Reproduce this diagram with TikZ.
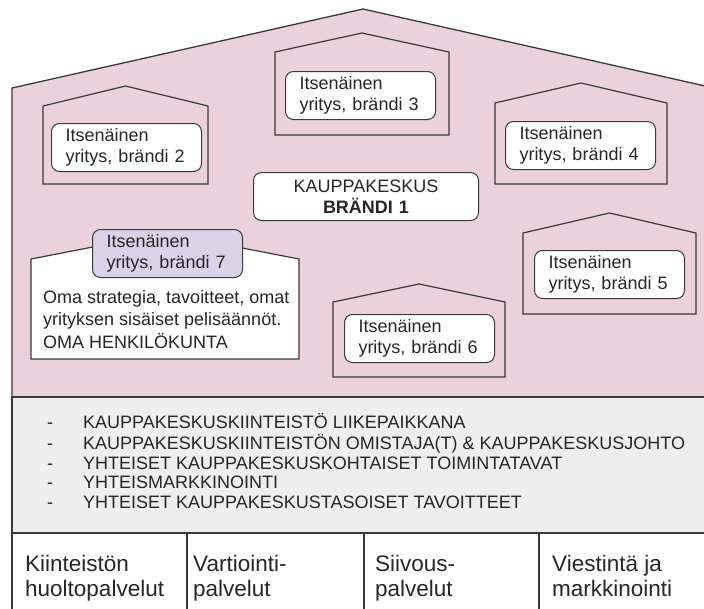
\documentclass[tikz,border=0pt]{standalone}
\usepackage{fontspec}
\setmainfont{Liberation Sans}
\usetikzlibrary{positioning}

\definecolor{keskuspink}{HTML}{EAD1DC}
\definecolor{yhteisgray}{HTML}{EEEEEE}
\definecolor{liila}{HTML}{D9D2E9}
\definecolor{viiva}{HTML}{3A3A3A}

\begin{document}
\begin{tikzpicture}[x=1pt, y=-1pt,
    wall/.style={draw=viiva, line width=1.3pt},
    house/.style={draw=viiva, line width=1.2pt},
    brand/.style={draw=viiva, fill=white, rounded corners=8pt, line width=1pt,
      text width=122pt, inner xsep=14pt, inner ysep=0pt, minimum height=48pt,
      align=left, anchor=north west, text=black!85,
      font=\fontsize{18}{21.5}\selectfont},
    plain/.style={inner sep=0pt, anchor=north west, align=left, text=black!85},
    service/.style={plain, font=\fontsize{22.5}{25}\selectfont}]
  \path[use as bounding box, clip] (0,0) rectangle (704,608);

  % kauppakeskus
  \draw[wall, fill=keskuspink] (12,88) -- (363,9) -- (714,88) -- (714,397)
    -- (12,397) -- cycle;

  % liikkeet: vasen, oikea, harja, raystas, pohja
  \foreach \xa/\xb/\yp/\ye/\yb in {43/208/86/106/184, 275/449/33/52/135,
      495/667/83/103/184, 523/696/213/233/314, 333/505/284/302/377}
    \draw[house] (\xa,\yb) -- (\xa,\ye) -- ({(\xa+\xb)/2},\yp) -- (\xb,\ye)
      -- (\xb,\yb) -- cycle;
  \draw[house, fill=white] (31,359) -- (31,259) -- (165,233) -- (299,259)
    -- (299,359) -- cycle;

  \node[brand] (b2) at (51,123) {Itsenäinen\\yritys, brändi 2};
  \node[brand] (b3) at (285,71) {Itsenäinen\\yritys, brändi 3};
  \node[brand] (b4) at (505,121) {Itsenäinen\\yritys, brändi 4};
  \node[brand] (b5) at (534,250) {Itsenäinen\\yritys, brändi 5};
  \node[brand] (b6) at (344,314) {Itsenäinen\\yritys, brändi 6};
  \node[brand, fill=liila] (b7) at (92,229) {Itsenäinen\\yritys, brändi 7};
  \node[brand, text width=197pt, align=center] (b1) at (253,172)
    {KAUPPAKESKUS\\\textbf{BRÄNDI 1}};
  \node[plain, font=\fontsize{18}{22.5}\selectfont] (oma) at (43,290)
    {Oma strategia, tavoitteet, omat\\yrityksen sisäiset pelisäännöt.\\OMA HENKILÖKUNTA};

  % yhteiset asiat
  \draw[wall, fill=yhteisgray] (12,397) rectangle (714,533);
  \node[plain, font=\fontsize{18}{19.5}\selectfont] (yhteiset) at (47,413.5) {%
    \begin{tabular}{@{}l@{\hspace{30pt}}l@{}}
      - & KAUPPAKESKUSKIINTEISTÖ LIIKEPAIKKANA\\
      - & KAUPPAKESKUSKIINTEISTÖN OMISTAJA(T) \& KAUPPAKESKUSJOHTO\\
      - & YHTEISET KAUPPAKESKUSKOHTAISET TOIMINTATAVAT\\
      - & YHTEISMARKKINOINTI\\
      - & YHTEISET KAUPPAKESKUSTASOISET TAVOITTEET
    \end{tabular}};

  % palvelut
  \draw[wall] (12,533) rectangle (714,640);
  \foreach \x in {187,364,539}
    \draw[wall] (\x,533) -- (\x,640);
  \node[service] (huolto) at (25,555) {Kiinteistön\\huoltopalvelut};
  \node[service] (vartiointi) at (193,555) {Vartiointi-\\palvelut};
  \node[service] (siivous) at (375,555) {Siivous-\\palvelut};
  \node[service] (viestinta) at (552,555) {Viestintä ja\\markkinointi};
\end{tikzpicture}
\end{document}
